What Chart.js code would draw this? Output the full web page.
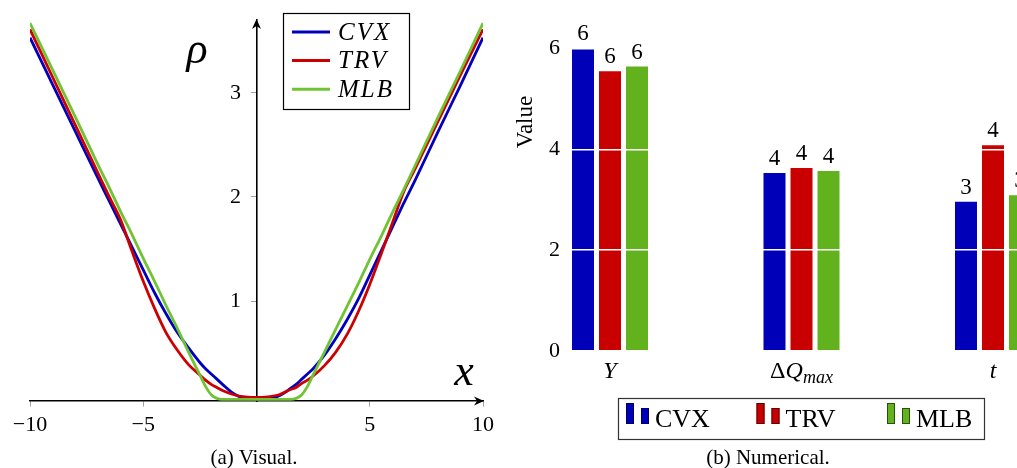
<!DOCTYPE html>
<html>
<head>
<meta charset="utf-8">
<title>Visual and numerical comparison</title>
<script src="https://cdn.jsdelivr.net/npm/chart.js@4.4.0/dist/chart.umd.min.js"></script>
<style>
  html, body { margin: 0; padding: 0; background: #fff; width: 1017px; height: 468px; overflow: hidden; }
  #visual-box { position: absolute; left: 0; top: 0; width: 500px; height: 468px; }
  #numerical-box { position: absolute; left: 500px; top: 0; width: 600px; height: 468px; }
  .caption { position: absolute; top: 447px; width: 240px; text-align: center;
             font: 21px 'Liberation Serif', 'Times New Roman', serif; color: #000; line-height: 21px; }
</style>
</head>
<body>
<div id="visual-box"><canvas id="visual"></canvas></div>
<div id="numerical-box"><canvas id="numerical"></canvas></div>
<div class="caption" style="left: 134px;">(a) Visual.</div>
<div class="caption" style="left: 648px;">(b) Numerical.</div>

<script>
var fontFamily = "'Liberation Serif', 'Times New Roman', serif";

// (a) penalty curves rho(x)
var xValues = [-10, -9, -8, -7, -6.5, -6, -5.5, -5, -4.5, -4, -3.5, -3, -2.5, -2.25, -2, -1.75, -1.5, -1, -0.5, 0,
               0.5, 1, 1.5, 1.75, 2, 2.25, 2.5, 3, 3.5, 4, 4.5, 5, 5.5, 6, 6.5, 7, 8, 9, 10];
var cvxRho = [3.53, 3.08, 2.63, 2.18, 1.96, 1.74, 1.52, 1.30, 1.08, 0.88, 0.70, 0.55, 0.41, 0.35, 0.30, 0.25, 0.20, 0.11, 0.065, 0.06,
              0.06, 0.09, 0.16, 0.20, 0.25, 0.30, 0.35, 0.48, 0.64, 0.82, 1.02, 1.25, 1.48, 1.71, 1.94, 2.16, 2.62, 3.07, 3.53];
var trvRho = [3.61, 3.15, 2.69, 2.23, 2.00, 1.78, 1.48, 1.19, 0.93, 0.70, 0.53, 0.39, 0.29, 0.24, 0.20, 0.17, 0.14, 0.10, 0.08, 0.074,
              0.08, 0.10, 0.15, 0.17, 0.21, 0.24, 0.28, 0.38, 0.51, 0.68, 0.90, 1.16, 1.45, 1.75, 2.05, 2.27, 2.72, 3.17, 3.61];
var mlbRho = [3.67, 3.22, 2.77, 2.31, 2.09, 1.86, 1.64, 1.41, 1.19, 0.96, 0.74, 0.51, 0.29, 0.18, 0.10, 0.065, 0.055, 0.055, 0.055, 0.055,
              0.055, 0.055, 0.055, 0.065, 0.10, 0.18, 0.29, 0.51, 0.73, 0.95, 1.17, 1.40, 1.62, 1.85, 2.07, 2.30, 2.76, 3.21, 3.67];
var xTicks = [-10, -5, 5, 10];
var rhoTicks = [1, 2, 3];

// (b) numerical results per metric
var metricLabels = ['Y', 'ΔQ_max', 't'];
var cvxBars = [6.0, 3.53, 2.96];
var trvBars = [5.55, 3.63, 4.08];
var mlbBars = [5.64, 3.57, 3.09];
var valueTicks = [0, 2, 4, 6];

var seriesNames = ['CVX', 'TRV', 'MLB'];
var lineColors = ['rgb(0, 0, 190)', 'rgb(204, 0, 0)', 'rgb(112, 196, 52)'];
var barColors = ['rgb(0, 0, 185)', 'rgb(200, 0, 0)', 'rgb(98, 178, 30)'];
var barEdges = ['rgb(0, 0, 90)', 'rgb(90, 0, 0)', 'rgb(40, 80, 10)'];

function toPoints(values) {
  return xValues.map(function (x, i) {
    return { x: x, y: values[i] };
  });
}

function drawArrow(ctx, x, y, angle) {
  ctx.save();
  ctx.translate(x, y);
  ctx.rotate(angle);
  ctx.beginPath();
  ctx.moveTo(0, 0);
  ctx.lineTo(-10, -4.5);
  ctx.lineTo(-7, 0);
  ctx.lineTo(-10, 4.5);
  ctx.closePath();
  ctx.fill();
  ctx.restore();
}

// arrows, axis names and the boxed legend of panel (a)
var visualDecor = {
  id: 'visualDecor',
  afterDraw: function (chart) {
    var ctx = chart.ctx;
    var xs = chart.scales.x;
    var ys = chart.scales.y;
    var ox = xs.getPixelForValue(0);
    var oy = ys.getPixelForValue(ys.min);
    ctx.save();
    ctx.fillStyle = '#000';
    drawArrow(ctx, xs.right + 1, oy, 0);
    drawArrow(ctx, ox, ys.top - 1, -Math.PI / 2);

    ctx.font = 'italic 44px ' + fontFamily;
    ctx.textAlign = 'center';
    ctx.textBaseline = 'alphabetic';
    ctx.fillText('x', 464, 385);
    ctx.fillText('ρ', 197, 63);

    ctx.lineWidth = 1.2;
    ctx.strokeStyle = '#000';
    ctx.strokeRect(283.5, 13.5, 126, 96);
    seriesNames.forEach(function (name, i) {
      var y = 32 + i * 28.6;
      ctx.strokeStyle = lineColors[i];
      ctx.lineWidth = 3;
      ctx.beginPath();
      ctx.moveTo(292, y);
      ctx.lineTo(330, y);
      ctx.stroke();
      ctx.fillStyle = '#000';
      ctx.font = 'italic 25px ' + fontFamily;
      ctx.textAlign = 'left';
      ctx.textBaseline = 'middle';
      ctx.letterSpacing = '2px';
      ctx.fillText(name, 338, y + 1);
      ctx.letterSpacing = '0px';
    });
    ctx.restore();
  }
};

new Chart(document.getElementById('visual').getContext('2d'), {
  type: 'line',
  data: {
    datasets: [
      { label: 'CVX', data: toPoints(cvxRho), borderColor: lineColors[0], order: 2 },
      { label: 'TRV', data: toPoints(trvRho), borderColor: lineColors[1], order: 1 },
      { label: 'MLB', data: toPoints(mlbRho), borderColor: lineColors[2], order: 0 },
    ],
  },
  options: {
    responsive: true,
    maintainAspectRatio: false,
    animation: false,
    events: [],
    layout: { padding: { left: 30, right: 12, top: 20, bottom: 67 } },
    elements: {
      line: { borderWidth: 2.8, fill: false, cubicInterpolationMode: 'monotone' },
      point: { radius: 0 },
    },
    plugins: { legend: { display: false }, tooltip: { enabled: false } },
    scales: {
      x: {
        type: 'linear',
        min: -10,
        max: 10,
        position: { y: 0.04 },
        afterBuildTicks: function (scale) {
          scale.ticks = xTicks.map(function (v) { return { value: v }; });
        },
        grid: { drawOnChartArea: false, drawTicks: true, tickLength: 5, color: '#a0a0a0' },
        border: { display: true, color: '#000', width: 1.6 },
        ticks: {
          color: '#000',
          padding: 6,
          maxRotation: 0,
          font: { family: fontFamily, size: 22 },
          callback: function (v) { return v < 0 ? '\u2212' + Math.abs(v) : String(v); },
        },
      },
      y: {
        type: 'linear',
        min: 0.04,
        max: 3.7,
        position: { x: 0 },
        afterBuildTicks: function (scale) {
          scale.ticks = rhoTicks.map(function (v) { return { value: v }; });
        },
        grid: { drawOnChartArea: false, drawTicks: true, tickLength: 5, color: '#a0a0a0' },
        border: { display: true, color: '#000', width: 1.6 },
        ticks: {
          color: '#000',
          font: { family: fontFamily, size: 22 },
          // labels of a value-positioned axis sit flush on it, so pad with spaces
          callback: function (v) { return v + '\u2002\u2009'; },
        },
      },
    },
  },
  plugins: [visualDecor],
});

// y title, category names, value labels and the boxed legend of panel (b)
var numericalDecor = {
  id: 'numericalDecor',
  afterDraw: function (chart) {
    var ctx = chart.ctx;
    var xs = chart.scales.x;
    ctx.save();
    ctx.fillStyle = '#000';

    ctx.save();
    ctx.translate(26, 122);
    ctx.rotate(-Math.PI / 2);
    ctx.font = '23px ' + fontFamily;
    ctx.textAlign = 'center';
    ctx.textBaseline = 'middle';
    ctx.fillText('Value', 0, 0);
    ctx.restore();

    // category names, with a subscript after '_'
    ctx.textBaseline = 'alphabetic';
    ctx.textAlign = 'left';
    metricLabels.forEach(function (label, i) {
      var parts = label.split('_');
      var main = parts[0];
      var sub = parts[1] || '';
      var pieces = [];
      if (main.charAt(0) === 'Δ') {
        pieces.push({ t: 'Δ', f: '24px ' + fontFamily, dy: 0 });
        main = main.slice(1);
      }
      pieces.push({ t: main, f: 'italic 24px ' + fontFamily, dy: 0 });
      if (sub) pieces.push({ t: sub, f: 'italic 18px ' + fontFamily, dy: 5 });
      var total = 0;
      pieces.forEach(function (p) {
        ctx.font = p.f;
        p.w = ctx.measureText(p.t).width;
        total += p.w;
      });
      var x = xs.getPixelForValue(i) - total / 2;
      pieces.forEach(function (p) {
        ctx.font = p.f;
        ctx.fillText(p.t, x, 378 + p.dy);
        x += p.w;
      });
    });

    // rounded values above the bars
    ctx.font = '23px ' + fontFamily;
    ctx.textAlign = 'center';
    chart.data.datasets.forEach(function (ds, di) {
      chart.getDatasetMeta(di).data.forEach(function (bar, i) {
        ctx.fillText(String(Math.round(ds.data[i].y)), bar.x, bar.y - 8);
      });
    });

    // legend
    ctx.lineWidth = 1.2;
    ctx.strokeStyle = '#333';
    ctx.strokeRect(118.5, 398.5, 366, 41);
    seriesNames.forEach(function (name, i) {
      var x0 = 126 + i * 130.5;
      ctx.lineWidth = 1;
      ctx.fillStyle = barColors[i];
      ctx.strokeStyle = barEdges[i];
      ctx.fillRect(x0, 403, 8, 21);
      ctx.strokeRect(x0 + 0.5, 403.5, 7, 20);
      ctx.fillRect(x0 + 15, 408, 8, 16);
      ctx.strokeRect(x0 + 15.5, 408.5, 7, 15);
      ctx.fillStyle = '#000';
      ctx.font = '26px ' + fontFamily;
      ctx.textAlign = 'left';
      ctx.fillText(name, x0 + 29, 427);
    });
    ctx.restore();
  }
};

function toBars(values) {
  return values.map(function (v, i) {
    return { x: i, y: v };
  });
}

new Chart(document.getElementById('numerical').getContext('2d'), {
  type: 'bar',
  data: {
    datasets: [
      { label: 'CVX', data: toBars(cvxBars), backgroundColor: barColors[0] },
      { label: 'TRV', data: toBars(trvBars), backgroundColor: barColors[1] },
      { label: 'MLB', data: toBars(mlbBars), backgroundColor: barColors[2] },
    ],
  },
  options: {
    responsive: true,
    maintainAspectRatio: false,
    animation: false,
    events: [],
    categoryPercentage: 0.423,
    barPercentage: 0.815,
    layout: { padding: { left: 0, right: 62, top: 10, bottom: 0 } },
    plugins: { legend: { display: false }, tooltip: { enabled: false } },
    scales: {
      x: {
        type: 'linear',
        min: -0.235,
        max: 2.235,
        offset: false,
        afterBuildTicks: function (scale) {
          scale.ticks = metricLabels.map(function (l, i) { return { value: i }; });
        },
        afterFit: function (scale) { scale.height = 117; },
        grid: { display: false, offset: false },
        border: { display: false },
        ticks: { display: false },
      },
      y: {
        min: 0,
        max: 6.6,
        afterBuildTicks: function (scale) {
          scale.ticks = valueTicks.map(function (v) { return { value: v }; });
        },
        afterFit: function (scale) { scale.width = 65; },
        grid: { color: '#fff', lineWidth: 1.5, drawTicks: false, z: 1 },
        border: { display: false },
        ticks: { color: '#000', padding: 5, font: { family: fontFamily, size: 22 } },
      },
    },
  },
  plugins: [numericalDecor],
});
</script>
</body>
</html>
